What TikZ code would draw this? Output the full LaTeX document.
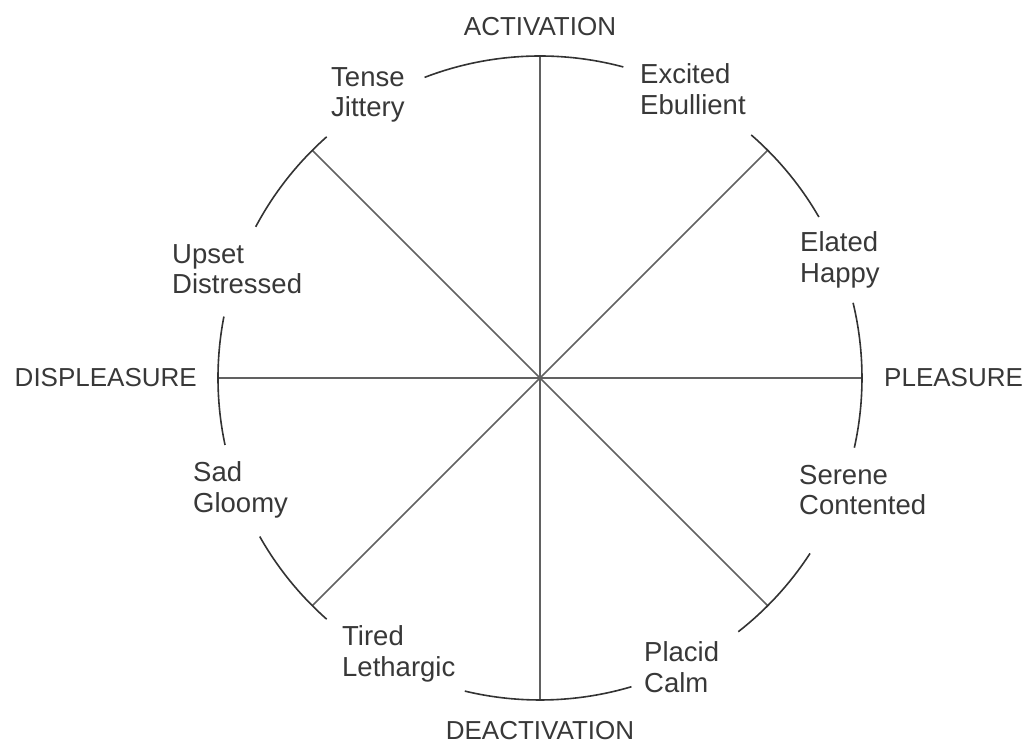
\documentclass[tikz,border=0pt]{standalone}
\usepackage{fontspec}
\setmainfont{Liberation Sans}
\usetikzlibrary{positioning}

\begin{document}
\begin{tikzpicture}[
  x=1pt, y=1pt,
  font=\fontsize{26}{30}\selectfont,
  axis/.style={draw=black!62, line width=1.7pt},
  rim/.style={draw=black!80, line width=1.6pt},
  mood/.style={anchor=west, align=left, text=black!78, inner sep=0pt, font=\fontsize{27.5}{30.5}\selectfont},
  pole/.style={text=black!78, inner sep=0pt}]
\useasboundingbox (-540,-366) rectangle (485,378);
% centre and rim points
\coordinate (c) at (0,0);
\coordinate (n) at (90:322);
\coordinate (s) at (-90:322);
\coordinate (e) at (0:322);
\coordinate (w) at (180:322);
\coordinate (ne) at (45:322);
\coordinate (nw) at (135:322);
\coordinate (se) at (-45:322);
\coordinate (sw) at (-135:322);
% spokes
\draw[axis] (s) -- (n);
\draw[axis] (w) -- (e);
\draw[axis] (sw) -- (ne);
\draw[axis] (nw) -- (se);
% rim segments
\draw[rim] (75:322) arc[start angle=75, end angle=111, radius=322];
\draw[rim] (30:322) arc[start angle=30, end angle=49, radius=322];
\draw[rim] (-12.5:322) arc[start angle=-12.5, end angle=13.5, radius=322];
\draw[rim] (-52:322) arc[start angle=-52, end angle=-33, radius=322];
\draw[rim] (256.5:322) arc[start angle=256.5, end angle=286.5, radius=322];
\draw[rim] (209.5:322) arc[start angle=209.5, end angle=228.5, radius=322];
\draw[rim] (169:322) arc[start angle=169, end angle=192, radius=322];
\draw[rim] (131.5:322) arc[start angle=131.5, end angle=152, radius=322];
% poles
\node[pole] (act) at (0,351) {ACTIVATION};
\node[pole] (deact) at (0,-353) {DEACTIVATION};
\node[pole, anchor=east] (displ) at (-343,0) {DISPLEASURE};
\node[pole, anchor=west] (pleas) at (344,0) {PLEASURE};
% moods
\node[mood] (tense) at (-209,283) {Tense\\Jittery};
\node[mood] (excited) at (100,289) {Excited\\Ebullient};
\node[mood] (elated) at (260,118) {Elated\\Happy};
\node[mood] (serene) at (259,-112) {Serene\\Contented};
\node[mood] (placid) at (104,-289) {Placid\\Calm};
\node[mood] (tired) at (-198,-276) {Tired\\Lethargic};
\node[mood] (sad) at (-347,-112) {Sad\\Gloomy};
\node[mood] (upset) at (-368,109) {Upset\\Distressed};
\end{tikzpicture}
\end{document}
